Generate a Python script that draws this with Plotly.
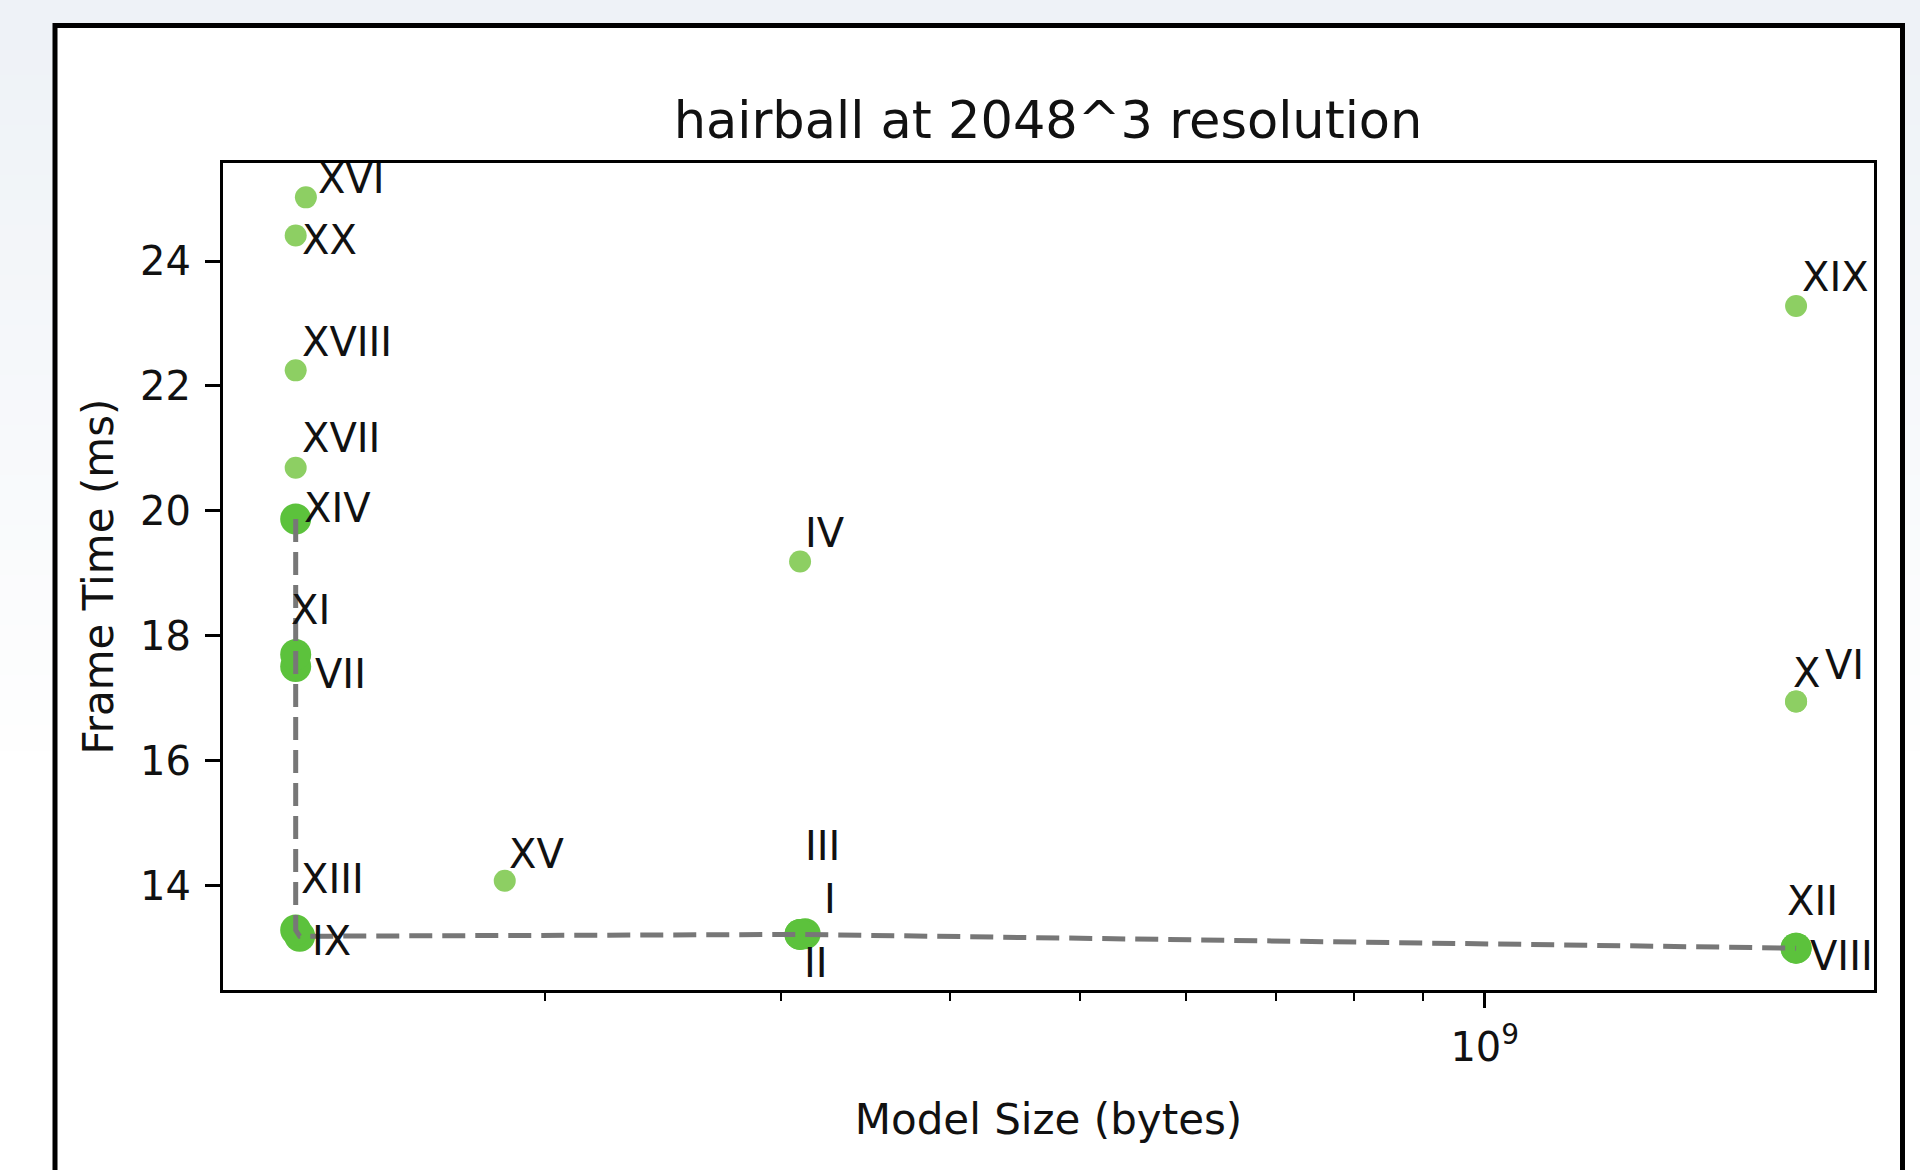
import numpy as np
import plotly.graph_objects as go

# ---------------- data ----------------
labels = ["I", "II", "III", "IV", "VI", "VII", "VIII", "IX", "X", "XI",
          "XII", "XIII", "XIV", "XV", "XVI", "XVII", "XVIII", "XIX", "XX"]
model_size = [3.124e8, 3.097e8, 3.097e8, 3.097e8, 1.704e9, 1.306e8, 1.704e9, 1.315e8, 1.704e9, 1.306e8,
              1.704e9, 1.306e8, 1.306e8, 1.868e8, 1.329e8, 1.306e8, 1.306e8, 1.704e9, 1.306e8]
frame_time = [13.23, 13.22, 13.22, 19.19, 16.95, 17.51, 13.00, 13.19, 16.95, 17.70,
              13.00, 13.29, 19.87, 14.08, 25.02, 20.69, 22.25, 23.28, 24.41]
on_front = ["I", "II", "III", "VII", "VIII", "IX", "XI", "XII", "XIII", "XIV"]
front_path = ["XIV", "XI", "VII", "XIII", "IX", "II", "VIII"]

y_ticks = [14, 16, 18, 20, 22, 24]
x_ticks = [1e9]
x_ticktext = ["10<sup>9</sup>"]
x_minor = [2e8, 3e8, 4e8, 5e8, 6e8, 7e8, 8e8, 9e8]

title_text = "hairball at 2048^3 resolution"
x_title = "Model Size (bytes)"
y_title = "Frame Time (ms)"

# label offsets in pixels (dx right, dy up)
label_offset = {
    "XVI": (10, 18), "XX": (4, -5), "XVIII": (4, 28), "XVII": (4, 30),
    "XIV": (6, 11), "XI": (-7, 45), "VII": (17, -8), "XIII": (3, 51),
    "IX": (10, -5), "XV": (2, 27), "IV": (3, 29), "III": (3, 88),
    "I": (17, 35), "II": (2, -29), "XIX": (4, 29), "X": (-5, 28),
    "VI": (27, 36), "XII": (-11, 47), "VIII": (12, -8),
}

# ---------------- layout geometry ----------------
W, H = 1920, 1170
L, R, T, B = 223, 46, 163, 180
pw, ph = W - L - R, H - T - B
FONT = "DejaVu Sans"
TXT = "#111111"

idx = {lab: i for i, lab in enumerate(labels)}
small = [i for i, lab in enumerate(labels) if lab not in on_front]
big = [i for i, lab in enumerate(labels) if lab in on_front]

fig = go.Figure()
fig.add_trace(go.Scatter(
    x=[model_size[i] for i in small], y=[frame_time[i] for i in small],
    mode="markers", marker=dict(size=22, color="#8dcf63", line=dict(width=0)),
    hoverinfo="skip", showlegend=False))
fig.add_trace(go.Scatter(
    x=[model_size[i] for i in big], y=[frame_time[i] for i in big],
    mode="markers", marker=dict(size=31, color="#5cc23c", line=dict(width=0)),
    hoverinfo="skip", showlegend=False))
fig.add_trace(go.Scatter(
    x=[model_size[idx[l]] for l in front_path], y=[frame_time[idx[l]] for l in front_path],
    mode="lines", line=dict(color="#777777", width=5, dash="23px,10px"),
    hoverinfo="skip", showlegend=False))

for lab in labels:
    i = idx[lab]
    dx, dy = label_offset[lab]
    fig.add_annotation(x=np.log10(model_size[i]), y=frame_time[i], text=lab,
                       xref="x", yref="y", showarrow=False, xanchor="left", yanchor="middle",
                       xshift=dx, yshift=dy, font=dict(family=FONT, size=40, color=TXT))

# background: light gradient band at top, white frame with black border
shapes = []
nb = 30
c0 = np.array([238, 242, 247])
for k in range(nb):
    t = k / nb
    c = (c0 + (255 - c0) * t).astype(int)
    y_top = k * 25
    y_bot = (k + 1) * 25 + 1
    shapes.append(dict(type="rect", xref="paper", yref="paper", layer="below",
                       x0=(0 - L) / pw, x1=(W - L) / pw,
                       y0=(H - B - y_bot) / ph, y1=(H - B - y_top) / ph,
                       fillcolor=f"rgb({c[0]},{c[1]},{c[2]})", line=dict(width=0)))
shapes.append(dict(type="rect", xref="paper", yref="paper", layer="below",
                   x0=(55 - L) / pw, x1=(1902.5 - L) / pw,
                   y0=(H - B - 1200) / ph, y1=(H - B - 25.5) / ph,
                   fillcolor="white", line=dict(color="black", width=5)))

fig.update_layout(
    width=W, height=H,
    margin=dict(l=L, r=R, t=T, b=B),
    paper_bgcolor="white", plot_bgcolor="white",
    font=dict(family=FONT, size=40, color=TXT),
    title=dict(text=title_text, x=(1048 - L) / pw, xref="paper", xanchor="center",
               y=1 - 120 / H, yref="container", yanchor="middle",
               font=dict(family=FONT, size=51, color=TXT)),
    shapes=shapes,
    showlegend=False,
)
fig.update_xaxes(
    type="log", range=[8.0619, 9.2894],
    tickvals=x_ticks, ticktext=x_ticktext,
    ticks="outside", ticklen=15, tickwidth=3, tickcolor="black",
    ticklabelstandoff=5,
    minor=dict(tickvals=x_minor, ticks="outside", ticklen=8, tickwidth=2, tickcolor="black", showgrid=False),
    showline=True, mirror=True, linecolor="black", linewidth=3,
    showgrid=False, zeroline=False,
    tickfont=dict(family=FONT, size=40, color=TXT),
    title=dict(text=x_title, standoff=36, font=dict(family=FONT, size=42, color=TXT)),
)
fig.update_yaxes(
    range=[12.33, 25.57],
    tickvals=y_ticks,
    ticks="outside", ticklen=15, tickwidth=3, tickcolor="black",
    ticklabelstandoff=6,
    showline=True, mirror=True, linecolor="black", linewidth=3,
    showgrid=False, zeroline=False,
    tickfont=dict(family=FONT, size=40, color=TXT),
    title=dict(text=y_title, standoff=14, font=dict(family=FONT, size=42, color=TXT)),
)

fig.write_html("out.html", config={"displayModeBar": False},
               post_script="document.body.style.margin='0';document.body.style.overflow='hidden';")
